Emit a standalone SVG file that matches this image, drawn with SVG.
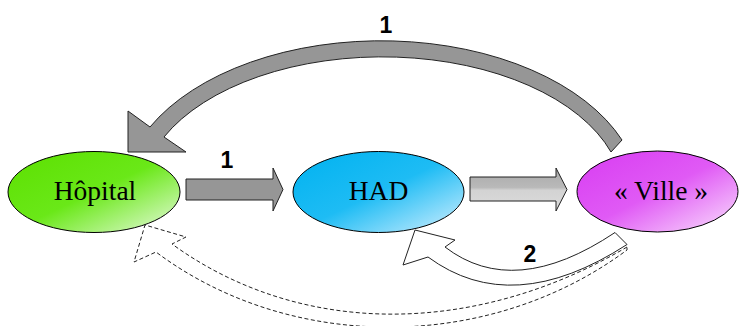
<svg xmlns="http://www.w3.org/2000/svg" width="739" height="326" viewBox="0 0 739 326">
<defs>
<linearGradient id="gGreen" x1="0" y1="0" x2="1" y2="1">
<stop offset="0" stop-color="#5ce000"/>
<stop offset="0.5" stop-color="#6ae818"/>
<stop offset="1" stop-color="#e8fbde"/>
</linearGradient>
<linearGradient id="gBlue" x1="0" y1="0" x2="1" y2="1">
<stop offset="0" stop-color="#00b2f0"/>
<stop offset="0.5" stop-color="#1ebcf4"/>
<stop offset="1" stop-color="#d4f0ff"/>
</linearGradient>
<linearGradient id="gPink" x1="0" y1="0" x2="1" y2="1">
<stop offset="0" stop-color="#d83cf2"/>
<stop offset="0.5" stop-color="#e05af5"/>
<stop offset="1" stop-color="#fae0fd"/>
</linearGradient>
<linearGradient id="gArrow" x1="0" y1="0" x2="0" y2="1">
<stop offset="0" stop-color="#a9a9a9"/>
<stop offset="0.45" stop-color="#b9b9b9"/>
<stop offset="0.52" stop-color="#d3d3d3"/>
<stop offset="1" stop-color="#dcdcdc"/>
</linearGradient>
</defs>
<style>
.node{stroke:#000;stroke-width:1}
.ntext{font-family:"Liberation Serif","Times New Roman",serif;font-size:27.5px;fill:#000;text-anchor:middle}
.lbl{font-family:"Liberation Sans",Arial,sans-serif;font-size:23px;font-weight:bold;fill:#000;text-anchor:middle}
.solid{stroke:#222;stroke-width:1;stroke-linejoin:miter}
.dash{fill:none;stroke:#222;stroke-width:1;stroke-dasharray:4 2.5}
</style>
<g id="node-hopital">
<ellipse class="node" cx="94" cy="192" rx="86" ry="40.5" fill="url(#gGreen)"/>
<text class="ntext" x="95" y="200">Hôpital</text>
</g>
<g id="node-had">
<ellipse class="node" cx="378.5" cy="192" rx="85.5" ry="40.5" fill="url(#gBlue)"/>
<text class="ntext" x="378.5" y="200">HAD</text>
</g>
<g id="node-ville">
<ellipse class="node" cx="657.5" cy="191.5" rx="80.5" ry="40.5" fill="url(#gPink)"/>
<text class="ntext" x="661" y="200">« Ville »</text>
</g>
<g id="connectors">
<path class="solid" fill="#969696" d="M186,179 H273 V168 L283,189.5 L273,211 V200 H186 Z"/>
<path class="solid" fill="url(#gArrow)" d="M470,177 H556 V168 L567,189.5 L556,211 V201 H470 Z"/>
<path class="solid" fill="#969696" d="M622,140 A259,157 0 0 0 150,127 L128,111 L128,152 L186,152 L164,137 A241,139 0 0 1 611,152 Z"/>
<path class="solid" fill="#fff" d="M615,232.5 Q514,300 445,247 L455,240 L415,230 L403,265 L428,257 Q512,319 627,244.5 Z"/>
<path class="dash" d="M627,247 C474,337 300,337 172,244 L186,237 L145,225 L134,262 L156,252 C290,352.5 489,352.5 627,250 Z"/>
<text class="lbl" x="227" y="167.5">1</text>
<text class="lbl" x="386" y="33">1</text>
<text class="lbl" x="530" y="262">2</text>
</g>
</svg>
